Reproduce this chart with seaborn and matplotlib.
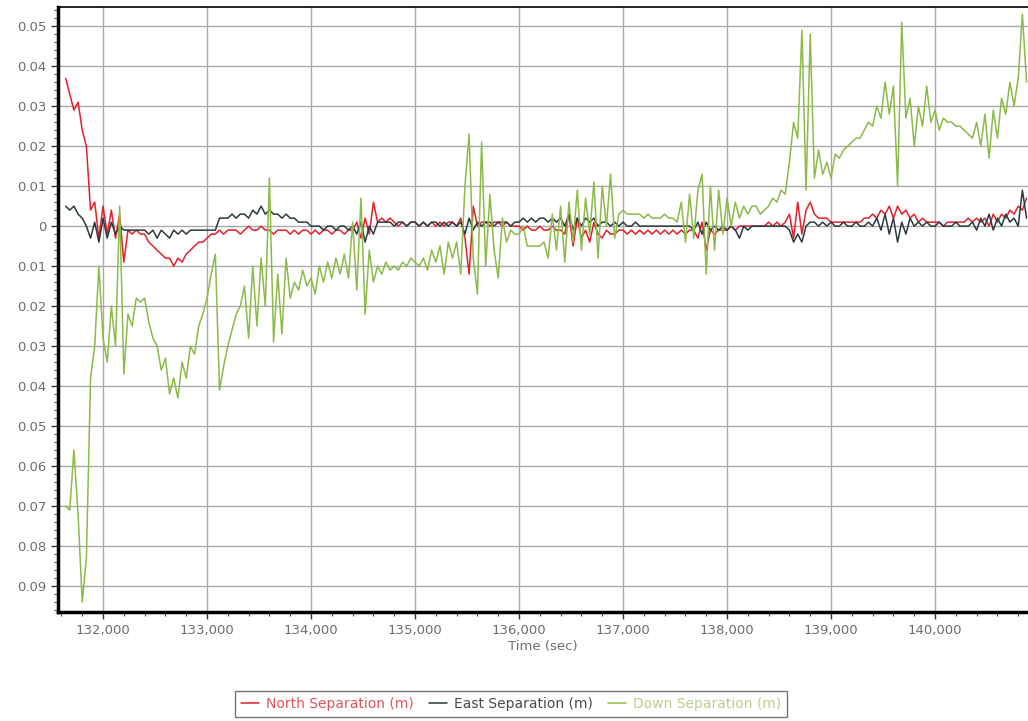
import numpy as np
import pandas as pd
import matplotlib
matplotlib.use("Agg")
import matplotlib.pyplot as plt
import seaborn as sns
from matplotlib.ticker import MultipleLocator, FuncFormatter

# sampling: one reading every 40 s starting at 131,640 s
time_start = 131640
time_step = 40

# separations in millimetres
north_mm = [
    37, 33, 29, 31, 24, 20, 4, 6, -3, 5,
    -2, 4, -3, 3, -9, -1, -2, -1, -2, -2,
    -4, -5, -6, -7, -8, -8, -10, -8, -9, -7,
    -6, -5, -4, -4, -3, -2, -2, -1, -2, -1,
    -1, -1, -2, -1, 0, -1, -1, 0, -1, -1,
    -2, -1, -1, -1, -2, -1, -2, -1, -1, -2,
    -1, -2, -1, -1, -2, -1, -1, -2, -1, -1,
    1, -3, 2, -2, 6, 1, 2, 1, 2, 1,
    0, 1, 0, 1, 1, 0, 1, 0, 1, 0,
    1, 0, 1, 1, 0, 2, -3, -12, 5, 0,
    1, 1, 0, 1, 1, 0, 1, 0, 0, 0,
    -1, 0, -1, -1, 0, -1, -1, 0, -1, -1,
    -2, 3, -5, 2, -3, -1, -4, 1, -2, -3,
    -1, -2, -2, -1, -1, -2, -1, -2, -1, -2,
    -1, -2, -1, -2, -1, -2, -1, -2, -1, -2,
    -1, -1, -3, 1, -6, -1, -2, -1, -1, -1,
    0, -1, 0, 0, 0, 0, 0, 0, 0, 1,
    0, 1, 0, 1, 3, -3, 6, -2, 4, 6,
    3, 2, 2, 2, 1, 1, 1, 1, 1, 1,
    1, 1, 2, 2, 3, 2, 4, 3, 5, 2,
    5, 3, 4, 2, 3, 1, 2, 1, 1, 1,
    1, 0, 1, 1, 1, 1, 1, 2, 1, 2,
    1, 2, 0, 3, 1, 3, 2, 4, 3, 5,
    4, 7,
]

east_mm = [
    5, 4, 5, 3, 2, 0, -3, 1, -4, 2,
    -3, 1, -2, 0, -1, -1, -1, -1, -1, -1,
    -2, -1, -3, -1, -2, -3, -1, -2, -1, -2,
    -1, -1, -1, -1, -1, -1, -1, 2, 2, 2,
    3, 2, 3, 3, 2, 4, 3, 5, 3, 4,
    3, 3, 2, 3, 2, 2, 1, 1, 1, 0,
    0, 0, -1, 0, 0, -1, 0, 0, -1, 0,
    -2, 1, -4, 0, -2, 1, 1, 1, 1, 0,
    1, 1, 0, 1, 1, 0, 1, 0, 1, 1,
    0, 1, 0, 1, 0, 1, -2, 2, -1, 1,
    0, 1, 1, 0, 1, 1, 1, 0, 1, 1,
    2, 1, 2, 1, 2, 2, 1, 2, 1, 2,
    0, 3, -1, 2, 0, 2, 1, 2, 0, 1,
    1, 0, 1, 0, 1, 0, 0, 1, 0, 0,
    0, 0, 0, 0, 0, 0, 0, 0, 0, 0,
    0, -1, 1, -2, 1, -1, 0, -1, 0, -1,
    0, -1, -3, 0, -1, 0, 0, 0, 0, 0,
    0, 0, 0, 0, -1, -4, -2, -4, 0, 1,
    1, 0, 1, 0, 1, 0, 0, 1, 0, 0,
    1, 0, 0, 1, 0, 2, -1, 3, -2, 2,
    -4, 1, -2, 2, 0, 1, 0, 1, 0, 0,
    1, 0, 0, 0, 1, 0, 0, 0, 1, -1,
    2, 0, 3, -1, 2, 0, 3, 1, 2, 0,
    9, 2,
]

down_mm = [
    -70, -71, -56, -72, -94, -83, -38, -30, -10, -28,
    -34, -20, -30, 5, -37, -22, -25, -18, -19, -18,
    -24, -28, -30, -36, -33, -42, -38, -43, -34, -38,
    -30, -32, -25, -22, -18, -12, -7, -41, -35, -30,
    -26, -22, -20, -15, -28, -10, -25, -8, -20, 12,
    -29, -12, -27, -8, -18, -14, -16, -11, -15, -13,
    -17, -10, -14, -9, -13, -8, -12, -7, -13, 1,
    -16, 7, -22, -6, -14, -10, -12, -9, -11, -10,
    -11, -9, -10, -8, -9, -10, -8, -11, -6, -9,
    -5, -12, -4, -8, -4, -12, 10, 23, -8, -17,
    21, -10, 8, -6, -13, 2, -4, -1, -2, -2,
    0, -5, -5, -5, -5, -4, -8, 3, -6, 5,
    -9, 6, -4, 9, -6, 7, -2, 11, -8, 10,
    0, 13, -3, 3, 4, 3, 3, 3, 3, 2,
    3, 2, 2, 2, 3, 2, 2, 1, 6, -4,
    8, -3, 9, 13, -12, 10, -6, 9, -2, 7,
    0, 6, 2, 5, 3, 5, 5, 3, 4, 5,
    7, 6, 9, 8, 16, 26, 22, 49, 9, 48,
    12, 19, 13, 16, 12, 18, 17, 19, 20, 21,
    22, 22, 24, 26, 25, 30, 27, 36, 28, 35,
    10, 51, 27, 32, 20, 30, 25, 35, 26, 29,
    24, 27, 26, 26, 25, 25, 24, 23, 22, 26,
    20, 28, 17, 29, 22, 32, 28, 36, 30, 37,
    53, 36,
]

series_names = ["North Separation (m)", "East Separation (m)", "Down Separation (m)"]
line_colors = ["#e3202b", "#2b3a3e", "#8dba48"]
legend_text_colors = ["#e0555e", "#4a4a4a", "#b9d08f"]

n = len(down_mm)
time_s = time_start + time_step * np.arange(n)

df = pd.DataFrame({
    "time": np.tile(time_s, 3),
    "sep": np.concatenate([north_mm, east_mm, down_mm]) / 1000.0,
    "series": np.repeat(series_names, n),
})

sns.set_style("white")
plt.rcParams["font.family"] = ["DejaVu Sans"]

fig = plt.figure(figsize=(10.28, 7.21), dpi=100)
ax = fig.add_axes([58 / 1028, 1 - 612 / 721, 970 / 1028, 605 / 721])

sns.lineplot(data=df, x="time", y="sep", hue="series", hue_order=series_names,
             palette=line_colors, estimator=None, sort=False, linewidth=1.1, ax=ax)

ax.set_xlim(131567, 140894)
ax.set_ylim(-0.0965, 0.0548)

ax.xaxis.set_major_locator(MultipleLocator(1000))
ax.xaxis.set_minor_locator(MultipleLocator(200))
ax.yaxis.set_major_locator(MultipleLocator(0.01))
ax.yaxis.set_minor_locator(MultipleLocator(0.002))
ax.xaxis.set_major_formatter(FuncFormatter(lambda v, p: f"{v:,.0f}"))
ax.yaxis.set_major_formatter(FuncFormatter(lambda v, p: "0" if abs(v) < 1e-9 else f"{abs(v):.2f}"))

ax.tick_params(which="major", direction="out", length=5, width=1, color="#333333",
               labelcolor="#6e6e6e", labelsize=9.5, bottom=True, left=True)
ax.tick_params(which="minor", direction="out", length=3, width=0.8, color="#555555",
               bottom=True, left=True)

ax.grid(which="major", color="#a9a9a9", linewidth=1)
ax.set_axisbelow(True)

for side in ["left", "bottom"]:
    ax.spines[side].set_linewidth(2.5)
    ax.spines[side].set_color("black")
ax.spines["top"].set_linewidth(1.2)
ax.spines["top"].set_color("black")
ax.spines["right"].set_visible(False)

ax.set_xlabel("Time (sec)", fontsize=9.5, color="#6e6e6e", labelpad=2)
ax.set_ylabel("")

handles, labels = ax.get_legend_handles_labels()
leg = ax.legend(handles, labels, loc="center", bbox_to_anchor=(0.497, 0.0236),
                bbox_transform=fig.transFigure, ncol=3, frameon=True, fancybox=False,
                edgecolor="#555555", fontsize=10, handlelength=1.3, handletextpad=0.5,
                columnspacing=1.1, borderpad=0.4)
leg.get_frame().set_linewidth(1.0)
for txt, c in zip(leg.get_texts(), legend_text_colors):
    txt.set_color(c)

fig.savefig("out.png", dpi=100)
